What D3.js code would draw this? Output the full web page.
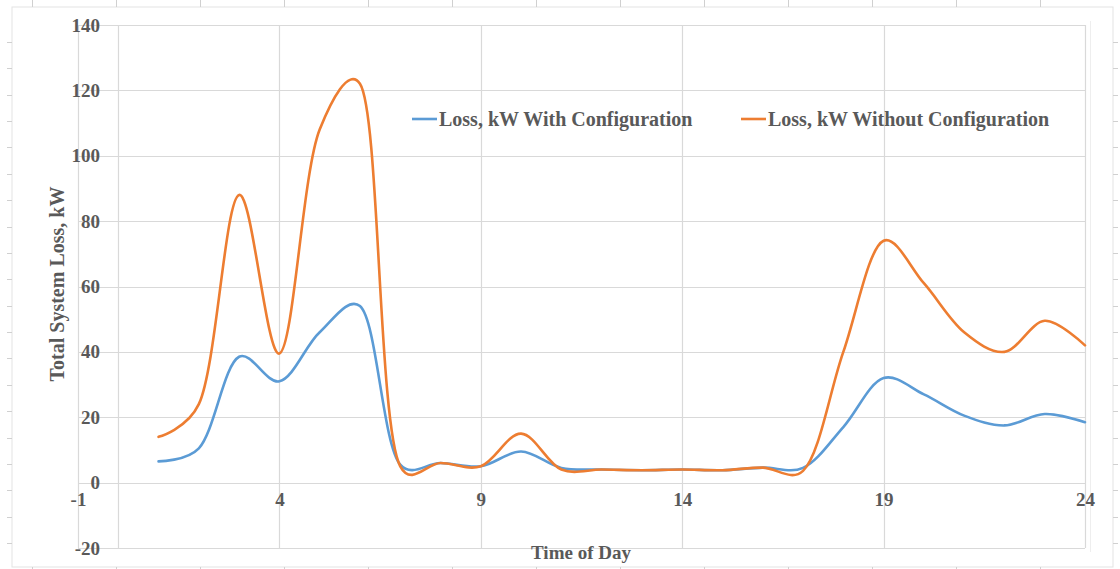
<!DOCTYPE html>
<html><head><meta charset="utf-8">
<script src="https://cdn.jsdelivr.net/npm/d3@7"></script>
<style>
html,body{margin:0;padding:0;background:#fff;}
svg{display:block;}
text{font-family:"Liberation Serif","Times New Roman",serif;font-weight:bold;fill:#595959;}
</style></head>
<body>
<svg id="c" width="1120" height="569"></svg>
<script>
const hours = [1,2,3,4,5,6,7,8,9,10,11,12,13,14,15,16,17,18,19,20,21,22,23,24];
const lossWith = [6.5,10.5,38.5,31,46,54,5.5,6,5,9.5,4.5,4,3.8,4,3.8,4.6,4.5,17,32,27,20.5,17.5,21,18.5];
const lossWithout = [14,24,88,39.5,108,122,5,6,5,15,4,4,3.8,4,3.8,4.6,3.6,40,74,61,46,40,49.5,42];
const xTicks = [-1,4,9,14,19,24];
const yTicks = [-20,0,20,40,60,80,100,120,140];
const seriesNames = ["Loss, kW With Configuration","Loss, kW Without Configuration"];
const seriesColors = ["#5b9bd5","#ed7d31"];

const svg = d3.select("#c");
const W = 1120, H = 569;
const grid = "#d9d9d9";

// outer frame with ruler ticks
const frame = svg.append("g");
frame.append("rect").attr("x",12).attr("y",7).attr("width",1101).attr("height",560)
  .attr("fill","none").attr("stroke","#e3e3e3").attr("stroke-width",1);
d3.range(32,W,84).forEach(x=>{
  frame.append("line").attr("x1",x+0.5).attr("x2",x+0.5).attr("y1",0).attr("y2",7).attr("stroke","#d0d0d0");
  frame.append("line").attr("x1",x+0.5).attr("x2",x+0.5).attr("y1",567).attr("y2",569).attr("stroke","#d0d0d0");
});
d3.range(42,H-4,26.37).forEach(y=>{
  frame.append("line").attr("x1",7).attr("x2",12).attr("y1",Math.round(y)+0.5).attr("y2",Math.round(y)+0.5).attr("stroke","#d0d0d0");
  frame.append("line").attr("x1",1113).attr("x2",1118).attr("y1",Math.round(y)+0.5).attr("y2",Math.round(y)+0.5).attr("stroke","#d0d0d0");
});

const x = d3.scaleLinear().domain([-1,24]).range([78,1085]);
const y = d3.scaleLinear().domain([-20,140]).range([548,25]);

// gridlines
const g = svg.append("g");
g.selectAll(".hg").data(yTicks).join("line")
  .attr("x1",x(-1)).attr("x2",x(24))
  .attr("y1",d=>Math.round(y(d))+0.5).attr("y2",d=>Math.round(y(d))+0.5)
  .attr("stroke",grid).attr("stroke-width",1.2);
g.selectAll(".vg").data(xTicks.concat([0])).join("line")
  .attr("y1",y(140)).attr("y2",y(-20))
  .attr("x1",d=>Math.round(x(d))+0.5).attr("x2",d=>Math.round(x(d))+0.5)
  .attr("stroke",grid).attr("stroke-width",1.2);
g.append("line").attr("x1",1090.5).attr("x2",1090.5).attr("y1",y(140)-4).attr("y2",y(-20)+4)
  .attr("stroke","#eeeeee");

// axis labels
const fmt = d => String(d);
const yAxis = d3.axisLeft(y).tickValues(yTicks).tickSize(0).tickPadding(0).tickFormat(fmt);
const ya = svg.append("g").attr("transform","translate(100,0)").call(yAxis);
ya.select(".domain").remove();
ya.selectAll("text").attr("font-size",19).attr("fill","#595959")
  .attr("font-family","Liberation Serif").attr("font-weight","bold");

const xAxis = d3.axisBottom(x).tickValues(xTicks).tickSize(0).tickPadding(0).tickFormat(fmt);
const xa = svg.append("g").attr("transform","translate(0,492)").call(xAxis);
xa.select(".domain").remove();
xa.selectAll("text").attr("font-size",19).attr("fill","#595959")
  .attr("font-family","Liberation Serif").attr("font-weight","bold");

// series
const line = d3.line().x((d,i)=>x(hours[i])).y(d=>y(d)).curve(d3.curveCatmullRom.alpha(0.3));
[lossWith,lossWithout].forEach((s,k)=>{
  svg.append("path").datum(s).attr("d",line).attr("fill","none")
    .attr("stroke",seriesColors[k]).attr("stroke-width",2.6).attr("stroke-linejoin","round").attr("stroke-linecap","round");
});

// legend
const lg = svg.append("g");
const legX = [412,741];
seriesNames.forEach((n,k)=>{
  lg.append("line").attr("x1",legX[k]).attr("x2",legX[k]+25).attr("y1",119).attr("y2",119)
    .attr("stroke",seriesColors[k]).attr("stroke-width",2.6);
  lg.append("text").attr("x",legX[k]+27).attr("y",119).attr("dy","0.35em")
    .attr("font-size",20).text(n);
});

// titles
svg.append("text").attr("x",581).attr("y",552).attr("dy","0.35em").attr("text-anchor","middle")
  .attr("font-size",19).text("Time of Day");
svg.append("text").attr("transform","translate(57,284) rotate(-90)").attr("dy","0.35em")
  .attr("text-anchor","middle").attr("font-size",20).text("Total System Loss, kW");
</script>
</body></html>
